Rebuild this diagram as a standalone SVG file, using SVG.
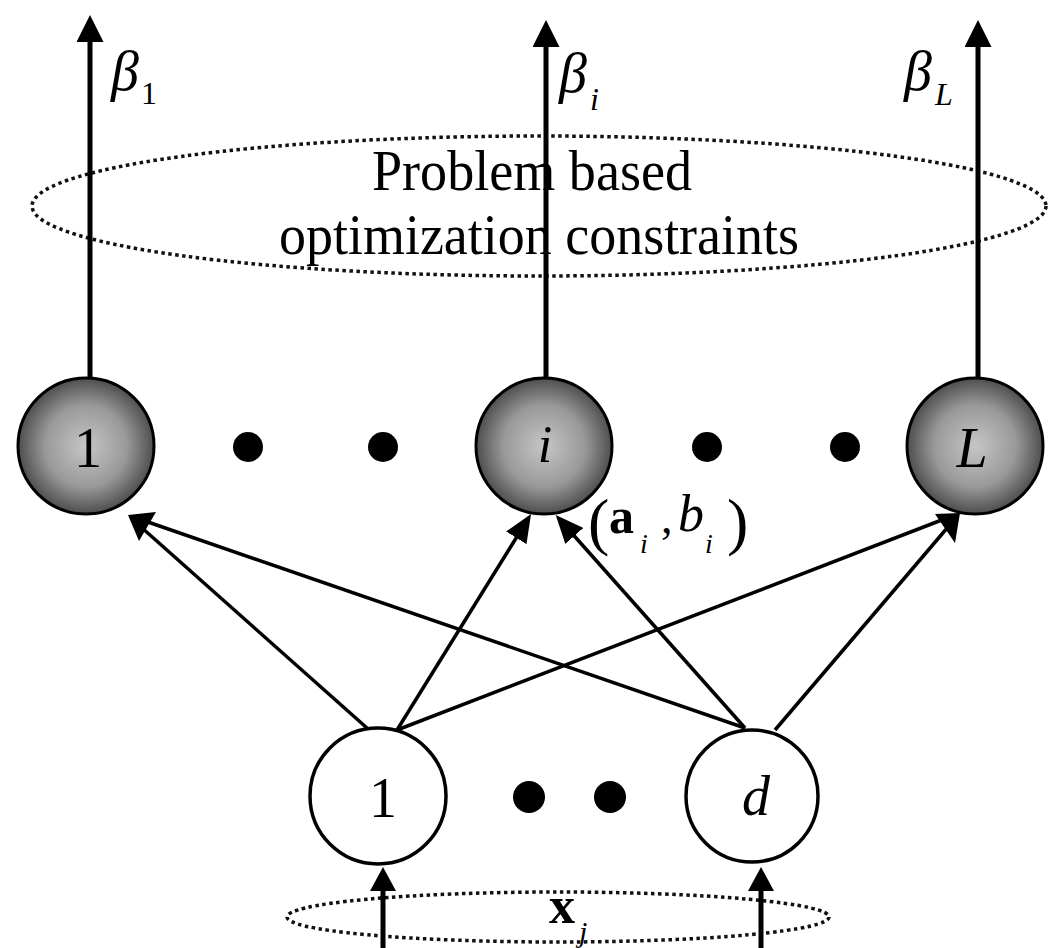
<svg xmlns="http://www.w3.org/2000/svg" width="1048" height="948" viewBox="0 0 1048 948">
<style>
  .lbl{font-family:"Liberation Serif","Times New Roman",serif;fill:#000}
  .it{font-style:italic}
  .bd{font-weight:bold}
  .hid{fill:url(#g);stroke:#000;stroke-width:3}
  .inp{fill:#fff;stroke:#000;stroke-width:3.5}
  .dot{fill:#000}
  .dotted{fill:none;stroke:#111;stroke-width:3.5;stroke-dasharray:3.5 3.5}
  .edge{stroke:#000;stroke-width:3.5;fill:none}
  .out{stroke:#000;stroke-width:5;fill:none}
  .head{fill:#000}
</style>
<defs>
  <radialGradient id="g" cx="50%" cy="50%" r="50%">
    <stop offset="0" stop-color="#c6c6c6"/>
    <stop offset="0.6" stop-color="#999"/>
    <stop offset="1" stop-color="#4e4e4e"/>
  </radialGradient>
  <marker id="ah" viewBox="0 0 28 24" refX="8" refY="12" markerWidth="28" markerHeight="24" markerUnits="userSpaceOnUse" orient="auto">
    <path d="M0,0 L28,12 L0,24 z" fill="#000"/>
  </marker>
  <marker id="vh" viewBox="0 0 27 27" refX="7" refY="13.5" markerWidth="27" markerHeight="27" markerUnits="userSpaceOnUse" orient="auto">
    <path d="M0,0 L27,13.5 L0,27 z" fill="#000"/>
  </marker>
  <marker id="bh" viewBox="0 0 24 26" refX="4" refY="13" markerWidth="24" markerHeight="26" markerUnits="userSpaceOnUse" orient="auto">
    <path d="M0,0 L24,13 L0,26 z" fill="#000"/>
  </marker>
</defs>
<rect width="1048" height="948" fill="#fff"/>

<g id="constraints">
  <ellipse class="dotted" cx="539" cy="206" rx="507" ry="70"/>
  <text class="lbl" x="532" y="190" font-size="57" text-anchor="middle" textLength="320" lengthAdjust="spacingAndGlyphs">Problem based</text>
  <text class="lbl" x="539" y="254" font-size="57" text-anchor="middle" textLength="520" lengthAdjust="spacingAndGlyphs">optimization constraints</text>
</g>

<g id="input-ellipse">
  <ellipse class="dotted" cx="558" cy="917" rx="271" ry="25"/>
  <text class="lbl bd" x="549" y="923" font-size="52">x</text>
  <text class="lbl it" x="579" y="942" font-size="30">j</text>
</g>

<g id="connectors">
  <line class="out" x1="90" y1="378" x2="90" y2="35" marker-end="url(#vh)"/>
  <line class="out" x1="546" y1="378" x2="546" y2="40" marker-end="url(#vh)"/>
  <line class="out" x1="978" y1="378" x2="978" y2="40" marker-end="url(#vh)"/>
  <line class="out" x1="383" y1="948" x2="383" y2="887" marker-end="url(#bh)"/>
  <line class="out" x1="761" y1="948" x2="761" y2="887" marker-end="url(#bh)"/>
  <line class="edge" x1="367" y1="728" x2="141" y2="527"/>
  <line class="edge" x1="745" y1="728" x2="145" y2="521"/>
  <polygon class="head" points="128,515 156,512 139,541"/>
  <line class="edge" x1="397" y1="730" x2="520.5" y2="531" marker-end="url(#ah)"/>
  <line class="edge" x1="745" y1="728" x2="569" y2="530" marker-end="url(#ah)"/>
  <line class="edge" x1="397" y1="730" x2="943" y2="519.5"/>
  <line class="edge" x1="775" y1="730" x2="948" y2="527"/>
  <polygon class="head" points="960,513 935,514 955,543"/>
</g>

<g id="beta-labels">
  <text class="lbl it" x="111" y="90" font-size="56">β</text>
  <text class="lbl" x="141" y="104" font-size="32">1</text>
  <text class="lbl it" x="559" y="92" font-size="56">β</text>
  <text class="lbl it" x="590" y="110" font-size="32">i</text>
  <text class="lbl it" x="904" y="90" font-size="56">β</text>
  <text class="lbl it" x="935" y="105" font-size="32">L</text>
</g>

<g id="hidden-1">
  <circle class="hid" cx="86" cy="446" r="68"/>
  <text class="lbl" x="88" y="467" font-size="56" text-anchor="middle">1</text>
</g>
<g id="hidden-dots-a">
  <circle class="dot" cx="248" cy="447" r="15"/>
  <circle class="dot" cx="383" cy="447" r="15"/>
</g>
<g id="hidden-i">
  <circle class="hid" cx="544" cy="446" r="68"/>
  <text class="lbl it" x="545" y="462" font-size="52" text-anchor="middle">i</text>
</g>
<g id="hidden-dots-b">
  <circle class="dot" cx="707" cy="447" r="15"/>
  <circle class="dot" cx="845" cy="447" r="15"/>
</g>
<g id="hidden-L">
  <circle class="hid" cx="975" cy="446" r="68"/>
  <text class="lbl it" x="972" y="467" font-size="56" text-anchor="middle">L</text>
</g>

<g id="weights-label">
  <text class="lbl" x="588" y="543" font-size="64">(</text>
  <text class="lbl bd" x="609" y="533" font-size="50">a</text>
  <text class="lbl it" x="640" y="553" font-size="28">i</text>
  <text class="lbl" x="661" y="533" font-size="46">,</text>
  <text class="lbl it" x="678" y="531" font-size="52">b</text>
  <text class="lbl it" x="705" y="553" font-size="28">i</text>
  <text class="lbl" x="727" y="543" font-size="64">)</text>
</g>

<g id="input-1">
  <circle class="inp" cx="378" cy="796" r="68"/>
  <text class="lbl" x="383" y="817" font-size="56" text-anchor="middle">1</text>
</g>
<g id="input-dots">
  <circle class="dot" cx="529" cy="797" r="16"/>
  <circle class="dot" cx="610" cy="797" r="16"/>
</g>
<g id="input-d">
  <circle class="inp" cx="752" cy="796" r="66"/>
  <text class="lbl it" x="756" y="815" font-size="56" text-anchor="middle">d</text>
</g>
</svg>
